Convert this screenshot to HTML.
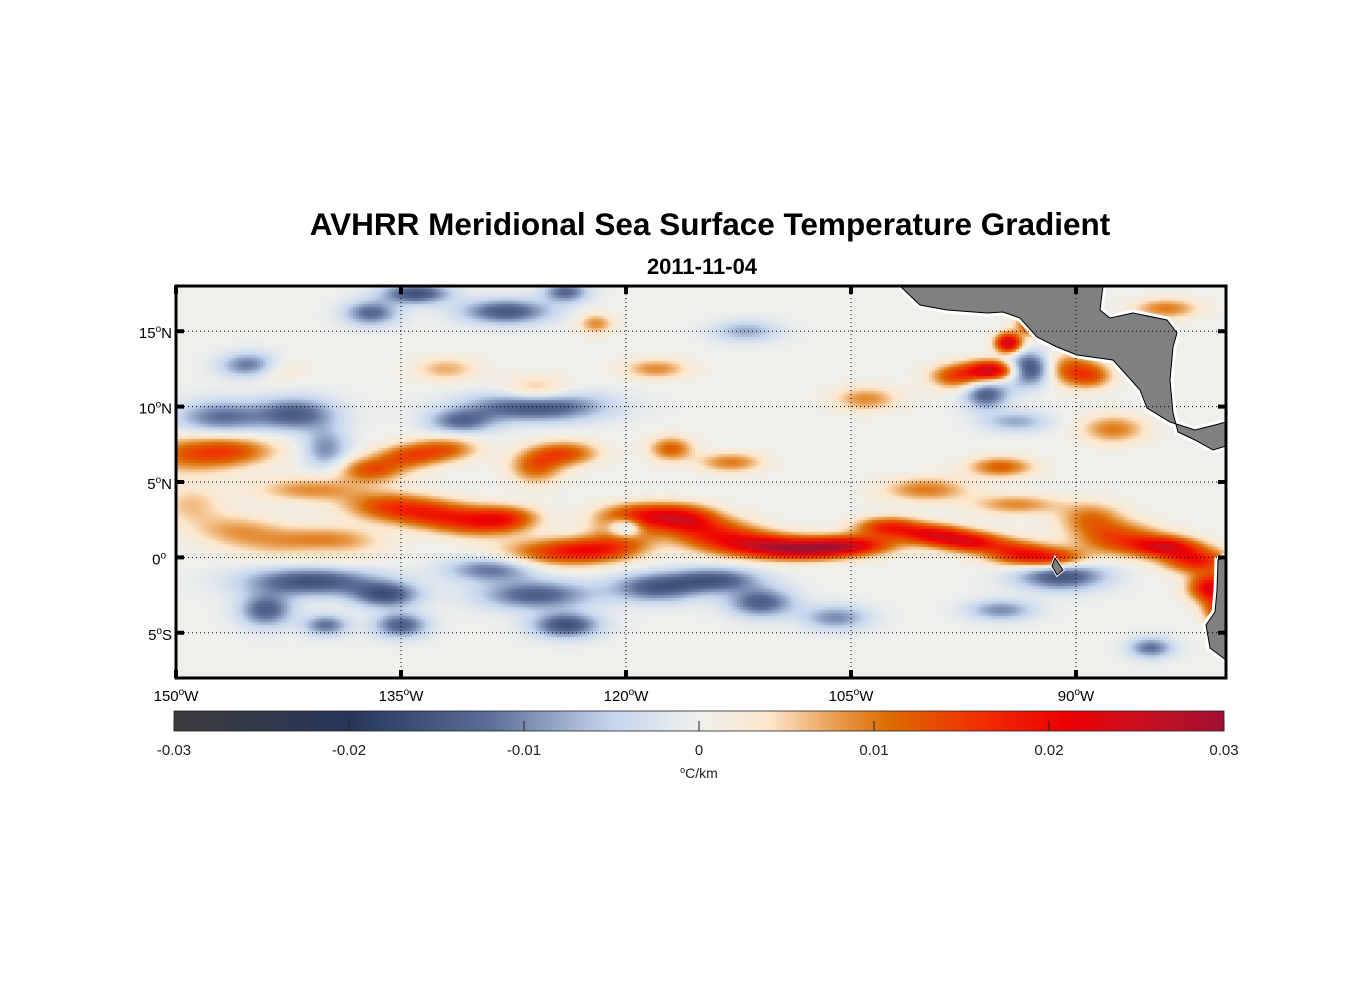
<!DOCTYPE html>
<html><head><meta charset="utf-8"><style>
html,body{margin:0;padding:0;background:#fff;}
body{width:1356px;height:1000px;position:relative;overflow:hidden;font-family:"Liberation Sans",Arial,sans-serif;}
#field{position:absolute;left:176px;top:286px;}
#cbar{position:absolute;left:174px;top:711px;}
#ov{position:absolute;left:0;top:0;}
</style></head><body>
<canvas id="field" width="1050" height="392"></canvas>
<canvas id="cbar" width="1050" height="20"></canvas>
<svg id="ov" width="1356" height="1000"></svg>
<script>
// data: features of the gradient field (lon, lat, value, lon-extent, lat-extent)
const featLon=[-149,-146,-141,-149,-146,-142,-139,-136,-133,-130,-128,-137,-134.5,-132,-126,-124,-125,-122,-120,-118.5,-116,-114,-111,-108,-105,-102.5,-99.5,-97,-94,-91.5,-89,-87,-84,-82,-81,-80.5,-100,-94,-95,-117,-113,-104,-98,-95.5,-94.5,-92.5,-91,-89,-87.5,-84,-132,-126,-122,-118,-144,
-147,-142,-145,-137,-134,-128,-124,-126,-131,-140,-141,-136,-144,-140,-135,-129,-126,-124,-120,-118,-114,-111,-106,-91,-95,-93,-96,-94,-85,-112,-140];
const featLat=[6.8,7.1,4.5,3.5,1.8,0.9,0.8,3.4,2.9,2.3,2.6,5.8,6.7,7.2,6,6.9,0.3,0.5,1.8,2.8,2.5,1.5,0.8,0.5,0.8,2,1.5,1,0.3,-0.1,2.6,1.2,0.7,-0.2,-2,-3.5,4.5,3.5,6,7.2,6.3,10.5,12,12.4,14.2,15.5,12.5,12,8.5,16.5,12.5,11,15.5,12.5,12.5,
9.3,9.5,12.7,16.2,17.5,16.3,17.6,10,9,7.2,-1.6,-2.5,-3.5,-4.5,-4.5,-0.8,-2.5,-4.5,2,-2,-1.5,-3,-4,-1.2,-3.5,12.5,10.8,9,-6,15,0.5];
const featVal=[0.011,0.009,0.009,0.006,0.007,0.008,0.008,0.012,0.013,0.013,0.012,0.013,0.012,0.011,0.012,0.013,0.012,0.013,0.012,0.015,0.014,0.015,0.018,0.02,0.02,0.017,0.019,0.019,0.016,0.017,0.01,0.014,0.019,0.018,0.022,0.015,0.01,0.009,0.012,0.012,0.01,0.009,0.014,0.026,0.026,0.028,0.015,0.01,0.01,0.01,0.007,0.008,0.009,0.009,0.007,
-0.012,-0.014,-0.016,-0.013,-0.016,-0.015,-0.013,-0.017,-0.012,-0.01,-0.016,-0.015,-0.014,-0.012,-0.014,-0.012,-0.014,-0.016,-0.017,-0.014,-0.014,-0.014,-0.01,-0.016,-0.01,-0.024,-0.014,-0.008,-0.012,-0.008,-0.006];
const featW=[2.5,2,2.5,1.5,2,2.5,2,2,2,2,1.5,1.5,1.5,1.5,1.2,1.5,2.5,2,1.5,2,1.5,2,2,2,2,1.5,1.5,1.5,1.5,1.5,1.5,2,1.5,1.5,1,0.7,2,2,1.5,1,1.5,1.5,1.2,1.2,0.6,0.8,1.5,1,1.5,1.5,1.5,1.5,0.8,1.5,1.5,
2,1.8,1.3,1.2,1.5,2,1,3,1.5,1,3,1.5,1.2,1,1.2,2,2.5,1.5,0.8,2,2,1.5,1.5,2,1.5,1.2,1,1.5,1,1.5,2];
const featH=[0.9,0.7,0.6,1,0.8,0.8,0.8,0.7,0.7,0.7,0.6,0.6,0.6,0.6,0.8,0.6,0.7,0.6,0.9,0.6,0.7,0.8,0.6,0.5,0.5,0.5,0.5,0.5,0.6,0.5,0.8,0.8,0.5,0.6,0.7,0.7,0.6,0.5,0.5,0.6,0.5,0.6,0.6,0.5,0.5,0.5,0.8,0.6,0.7,0.5,0.6,0.7,0.5,0.5,0.6,
0.8,0.8,0.6,0.6,0.5,0.6,0.5,0.7,0.6,1,0.7,0.6,0.8,0.5,0.6,0.6,0.7,0.6,0.5,0.7,0.6,0.7,0.6,0.7,0.5,0.8,0.7,0.5,0.5,0.5,0.5];
const lonTicks=[-150,-135,-120,-105,-90];
const lonLabels=["150","135","120","105","90"];
const latTicks=[15,10,5,0,-5];
const latLabels=["15","10","5","0","5"];
const latSuffix=["N","N","N","","S"];
const cbTicks=[-0.03,-0.02,-0.01,0,0.01,0.02,0.03];
const cbLabels=["-0.03","-0.02","-0.01","0","0.01","0.02","0.03"];

const X0=176,X1=1226,Y0=286,Y1=678,LON0=-150,LON1=-80,LAT0=-8,LAT1=18;
const WS=1.45,HS=1.35;
const xs=lon=>X0+(lon-LON0)/(LON1-LON0)*(X1-X0);
const ys=lat=>Y1-(lat-LAT0)/(LAT1-LAT0)*(Y1-Y0);
const stops=[[-0.03,[60,60,60]],[-0.02,[38,54,90]],[-0.012,[90,110,152]],[-0.005,[197,214,238]],[0,[238,240,236]],[0.004,[253,231,204]],[0.008,[231,154,74]],[0.011,[220,106,0]],[0.016,[240,48,0]],[0.021,[238,0,0]],[0.025,[204,16,32]],[0.03,[160,16,48]]];
function cmap(v){v=Math.max(-0.03,Math.min(0.03,v));for(let i=0;i<stops.length-1;i++){const a=stops[i],b=stops[i+1];if(v<=b[0]){const t=(v-a[0])/(b[0]-a[0]);return a[1].map((c,k)=>Math.round(c+(b[1][k]-c)*t));}}return stops[stops.length-1][1];}

const fc=document.getElementById('field').getContext('2d');
const W=1050,H=392,img=fc.createImageData(W,H),S=3;
for(let py=0;py<H;py+=S)for(let px=0;px<W;px+=S){
 const lon=LON0+(px+1.5)/W*(LON1-LON0),lat=LAT1-(py+1.5)/H*(LAT1-LAT0);let v=0;
 for(let i=0;i<featLon.length;i++){const dx=(lon-featLon[i])/(featW[i]*WS),dy=(lat-featLat[i])/(featH[i]*HS);const d=dx*dx+dy*dy;if(d<9)v+=featVal[i]*Math.exp(-d);}
 const c=cmap(v);
 for(let yy=py;yy<Math.min(H,py+S);yy++)for(let xx=px;xx<Math.min(W,px+S);xx++){const o=(yy*W+xx)*4;img.data[o]=c[0];img.data[o+1]=c[1];img.data[o+2]=c[2];img.data[o+3]=255;}
}
fc.putImageData(img,0,0);
const cc=document.getElementById('cbar').getContext('2d');
for(let x=0;x<1050;x++){const c=cmap(-0.03+x/1049*0.06);cc.fillStyle=`rgb(${c[0]},${c[1]},${c[2]})`;cc.fillRect(x,0,1,20);}

const svg=document.getElementById('ov'),NS='http://www.w3.org/2000/svg';
function mk(tag,attrs,parent){const e=document.createElementNS(NS,tag);for(const k in attrs)e.setAttribute(k,attrs[k]);(parent||svg).appendChild(e);return e;}
const cam="900,286 920,305 947,310 987,313 1003,312 1020,318 1037,337 1057,347 1077,355 1113,360 1140,390 1147,408 1170,422 1195,430 1215,425 1226,422 1226,446 1213,450 1195,440 1178,432 1173,413 1170,380 1173,347 1177,333 1167,320 1133,313 1110,318 1100,310 1103,286";
const sam="1226,556 1218,560 1217,590 1215,612 1206,625 1210,648 1226,660";
const gal="1055,558 1063,570 1057,575 1052,566";
[cam,sam,gal].forEach((p,i)=>{const n=['central-america-land','south-america-land','galapagos-island'][i];
 const h=mk('polygon',{points:p,fill:'#fff',stroke:'#fff','stroke-width':i==2?3:7});
 const e=mk('polygon',{points:p,fill:'#808080',stroke:'#000','stroke-width':1});});
mk('rect',{x:1226,y:280,width:40,height:400,fill:'#fff'});
mk('rect',{x:170,y:276,width:1070,height:10,fill:'#fff'});
lonTicks.forEach((t,i)=>{const x=xs(t);
 if(i>0){const g=mk('line',{x1:x,y1:Y0,x2:x,y2:Y1,stroke:'#000','stroke-width':1,'stroke-dasharray':'1,3'});}
 mk('line',{x1:x,y1:Y0,x2:x,y2:Y0+8,stroke:'#000','stroke-width':4});mk('line',{x1:x,y1:Y1,x2:x,y2:Y1-8,stroke:'#000','stroke-width':4});
 const tx=mk('text',{x:x,y:Y1+23,'text-anchor':'middle','font-size':15});
 tx.innerHTML=lonLabels[i]+'<tspan dy="-6" font-size="10">o</tspan><tspan dy="6">W</tspan>';});
latTicks.forEach((t,i)=>{const y=ys(t);
 const g=mk('line',{x1:X0,y1:y,x2:X1,y2:y,stroke:'#000','stroke-width':1,'stroke-dasharray':'1,3'});
 mk('line',{x1:X0,y1:y,x2:X0+8,y2:y,stroke:'#000','stroke-width':4});mk('line',{x1:X1,y1:y,x2:X1-8,y2:y,stroke:'#000','stroke-width':4});
 const tx=mk('text',{x:latSuffix[i]?172:166,y:y+7,'text-anchor':'end','font-size':15});
 tx.innerHTML=latLabels[i]+'<tspan dy="-6" font-size="10">o</tspan><tspan dy="6">'+latSuffix[i]+'</tspan>';});
const fr=mk('rect',{x:X0,y:Y0,width:X1-X0,height:Y1-Y0,fill:'none',stroke:'#000','stroke-width':3});
const cx=v=>174+(v+0.03)/0.06*1050;
mk('rect',{x:174,y:711,width:1050,height:20,fill:'none',stroke:'#222','stroke-width':0.8});
cbTicks.forEach((t,i)=>{const x=cx(t);mk('line',{x1:x,y1:731,x2:x,y2:721,stroke:'#222','stroke-width':1});
 const tx=mk('text',{x:x,y:755,'text-anchor':'middle','font-size':15,fill:'#222'});tx.textContent=cbLabels[i];
 });
const u=mk('text',{x:699,y:778,'text-anchor':'middle','font-size':14,fill:'#222'});u.innerHTML='<tspan dy="-5" font-size="9">o</tspan><tspan dy="5">C/km</tspan>';

const t1=mk('text',{x:710,y:235,'text-anchor':'middle','font-size':31.5,'font-weight':'bold'});t1.textContent='AVHRR Meridional Sea Surface Temperature Gradient';

const t2=mk('text',{x:702,y:274,'text-anchor':'middle','font-size':22,'font-weight':'bold'});t2.textContent='2011-11-04';

</script>
</body></html>
